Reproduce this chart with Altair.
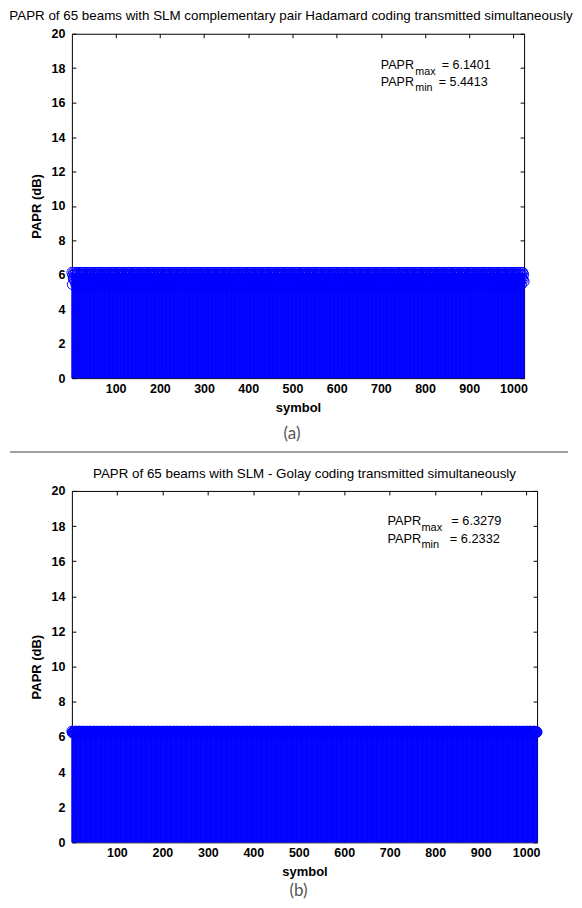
import altair as alt
import pandas as pd

# ---- data ----
symbols = list(range(1, 1025))
# PAPR per symbol (dB); the pattern repeats along the symbol axis
papr_a_cycle = [6.1401, 5.4413, 5.9876, 5.8122, 6.1401, 5.7308, 6.0215, 5.6114]
papr_b_cycle = [6.3279, 6.2332, 6.2801, 6.2564, 6.3105, 6.2450, 6.2950, 6.2689]
papr_a = papr_a_cycle * 128
papr_b = papr_b_cycle * 128

x_ticks = [100, 200, 300, 400, 500, 600, 700, 800, 900, 1000]
y_ticks = [0, 2, 4, 6, 8, 10, 12, 14, 16, 18, 20]

title_a = "PAPR of 65 beams with SLM complementary pair Hadamard coding transmitted simultaneously"
title_b = "PAPR of 65 beams with SLM - Golay coding transmitted simultaneously"
stats_a = {"max": "= 6.1401", "min": "= 5.4413"}
stats_b = {"max": "= 6.3279", "min": "= 6.2332"}

FONT = "Liberation Sans"
BLUE = "#0000FF"


def panel(values, title, w, h, stats, ann_x, ann_y1, ann_y2, fs, sub_dx, eq_dx1, eq_dx2,
          caption, cap_dy, rule_dy, title_fs, title_dx, title_offset):
    df = pd.DataFrame({"symbol": symbols, "papr": values})
    xs = alt.Scale(domain=[1, 1024], nice=False, zero=False)
    ys = alt.Scale(domain=[0, 20], nice=False, zero=False)

    ax_bottom = alt.Axis(orient="bottom", values=x_ticks, format="d", offset=-4, tickSize=4,
                         domain=False, grid=False, labelPadding=4, labelFlush=False,
                         title="symbol", titlePadding=7)
    ax_left = alt.Axis(orient="left", values=y_ticks, format="d", offset=-4, tickSize=4,
                       domain=False, grid=False, labelPadding=7,
                       title="PAPR (dB)", titlePadding=8)
    ax_top = alt.Axis(orient="top", values=x_ticks, offset=-4, tickSize=4, domain=False,
                      grid=False, labels=False, title=None, minExtent=0, maxExtent=0)
    ax_right = alt.Axis(orient="right", values=y_ticks, offset=-4, tickSize=4, domain=False,
                        grid=False, labels=False, title=None, minExtent=0, maxExtent=0)

    stems = alt.Chart(df).mark_rule(color=BLUE, strokeWidth=1).encode(
        x=alt.X("symbol:Q", scale=xs, axis=ax_bottom),
        y=alt.Y("papr:Q", scale=ys, axis=ax_left),
        y2=alt.datum(0),
    )
    marks = alt.Chart(df).mark_point(shape="circle", filled=False, color=BLUE, size=100,
                                     strokeWidth=1, opacity=1).encode(
        x=alt.X("symbol:Q", scale=xs, axis=ax_top),
        y=alt.Y("papr:Q", scale=ys, axis=ax_right),
    )

    def txt(xv, yv, t, size, dx, dy):
        d = pd.DataFrame({"symbol": [xv], "papr": [yv], "t": [t]})
        return alt.Chart(d).mark_text(align="left", baseline="middle", font=FONT,
                                      fontSize=size, color="black", dx=dx, dy=dy).encode(
            x=alt.X("symbol:Q", scale=xs, axis=None),
            y=alt.Y("papr:Q", scale=ys, axis=None),
            text="t:N",
        )

    sub = fs * 0.86
    texts = [
        txt(ann_x, ann_y1, "PAPR", fs, 0, 0),
        txt(ann_x, ann_y1, "max", sub, sub_dx, 6.5),
        txt(ann_x, ann_y1, stats["max"], fs, eq_dx1, 0),
        txt(ann_x, ann_y2, "PAPR", fs, 0, 0),
        txt(ann_x, ann_y2, "min", sub, sub_dx, 6.5),
        txt(ann_x, ann_y2, stats["min"], fs, eq_dx2, 0),
    ]

    cap = alt.Chart(pd.DataFrame({"c": [caption]})).mark_text(
        font="Lato", fontSize=17, color="#555555", align="center", baseline="middle"
    ).encode(x=alt.value(w / 2 - 6), y=alt.value(h + cap_dy), text="c:N")

    layers = [stems, marks] + texts + [cap]
    if rule_dy is not None:
        sep = alt.Chart(pd.DataFrame({"c": [caption]})).mark_rule(
            color="#a0a0a0", strokeWidth=2
        ).encode(x=alt.value(-62), x2=alt.value(w + 44), y=alt.value(h + rule_dy))
        layers.append(sep)

    return alt.layer(*layers).properties(
        width=w, height=h,
        title=alt.TitleParams(title, font=FONT, fontSize=title_fs, fontWeight="normal",
                              color="black", anchor="middle", frame="group",
                              offset=title_offset, dx=title_dx),
    )


pa = panel(papr_a, title_a, 453, 345, stats_a, 700, 18.17, 17.2, 12.5, 34.5, 61, 58,
           "(a)", 56, 74, 13.4, -7, 5)
pb = panel(papr_b, title_b, 466, 352, stats_b, 695, 18.26, 17.28, 12.8, 34, 64, 62.5,
           "(b)", 49, None, 13.4, 0, 5)

chart = alt.vconcat(pa, pb, spacing=12).properties(
    padding={"top": 0, "left": 0, "right": 0, "bottom": 0}
).configure_view(
    stroke="black", strokeWidth=1
).configure_axis(
    labelFont=FONT, labelFontSize=12.5, labelFontWeight="bold", labelColor="black",
    titleFont=FONT, titleFontSize=13, titleFontWeight="bold", titleColor="black",
    tickColor="black", tickWidth=1,
)

chart.save("out.html", embed_options={"renderer": "svg", "actions": False})
